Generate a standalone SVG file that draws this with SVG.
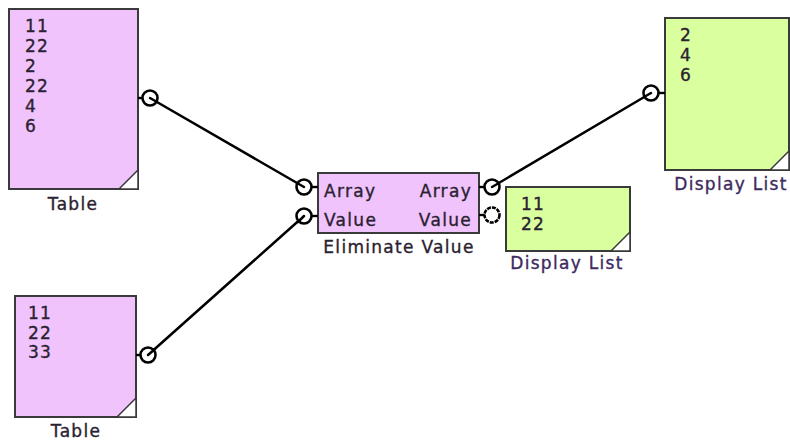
<svg xmlns="http://www.w3.org/2000/svg" width="790" height="442" viewBox="0 0 790 442">
<style>
  text { font-family: "DejaVu Sans", Verdana, sans-serif; font-size: 17px; letter-spacing: 1.3px; fill: #2a2230; stroke: #2a2230; stroke-width: 0.35px; }
  .lbl { text-anchor: middle; }
  .dl { fill: #3e2a5e; stroke: #3e2a5e; }
  .tbl { fill: #f1c3fd; stroke: #3a3a3a; stroke-width: 2; }
  .dsp { fill: #d9ff9f; stroke: #3a3a3a; stroke-width: 2; }
  .fold { fill: #ffffff; stroke: #3a3a3a; stroke-width: 1.5; }
  .port { fill: #ffffff; stroke: #000; stroke-width: 2.6; }
  .stub { stroke: #000; stroke-width: 2.4; }
  .wire { stroke: #000; stroke-width: 2.5; fill: none; stroke-linecap: round; }
  .r { text-anchor: end; }
</style>
<rect width="790" height="442" fill="#ffffff"/>

<g id="connectors">
  <line class="wire" x1="150" y1="98" x2="304" y2="187"/>
  <line class="wire" x1="148" y1="355" x2="304" y2="216"/>
  <line class="wire" x1="492" y1="187" x2="651" y2="93"/>
</g>

<g id="table1">
  <rect class="tbl" x="9" y="9" width="129" height="180"/>
  <polygon class="fold" points="119,189 138,170 138,189"/>
  <text x="25" y="32">11</text>
  <text x="25" y="52">22</text>
  <text x="25" y="72">2</text>
  <text x="25" y="92">22</text>
  <text x="25" y="112">4</text>
  <text x="25" y="132">6</text>
  <text class="lbl" x="73" y="210">Table</text>
  <line class="stub" x1="138" y1="98" x2="142" y2="98"/>
  <circle class="port" cx="150" cy="98" r="7.5"/>
  <line class="wire" x1="150" y1="98" x2="157" y2="102"/>
</g>

<g id="table2">
  <rect class="tbl" x="15" y="296" width="121" height="121"/>
  <polygon class="fold" points="117,417 136,398 136,417"/>
  <text x="28" y="319">11</text>
  <text x="28" y="339">22</text>
  <text x="28" y="358">33</text>
  <text class="lbl" x="76" y="437">Table</text>
  <line class="stub" x1="136" y1="355" x2="141" y2="355"/>
  <circle class="port" cx="148" cy="355" r="7.5"/>
  <line class="wire" x1="148" y1="355" x2="155" y2="349"/>
</g>

<g id="eliminate">
  <rect class="tbl" x="318" y="173" width="161" height="60"/>
  <text x="324" y="197">Array</text>
  <text x="324" y="226">Value</text>
  <text class="r" x="472" y="197">Array</text>
  <text class="r" x="472" y="226">Value</text>
  <text class="lbl" x="399" y="253">Eliminate Value</text>
  <line class="stub" x1="312" y1="187" x2="318" y2="187"/>
  <line class="stub" x1="312" y1="216" x2="318" y2="216"/>
  <circle class="port" cx="304" cy="187" r="7.5"/>
  <circle class="port" cx="304" cy="216" r="7.5"/>
  <line class="wire" x1="304" y1="187" x2="297" y2="183"/>
  <line class="wire" x1="304" y1="216" x2="298" y2="222"/>
  <line class="stub" x1="479" y1="187" x2="485" y2="187"/>
  <line class="stub" x1="479" y1="215" x2="485" y2="215"/>
  <circle class="port" cx="492" cy="187" r="7.5"/>
  <circle class="port" cx="492" cy="215" r="7.5" stroke-dasharray="4 1"/>
  <line class="wire" x1="492" y1="187" x2="499" y2="183"/>
</g>

<g id="display1">
  <rect class="dsp" x="665" y="18" width="124" height="152"/>
  <polygon class="fold" points="770,170 789,151 789,170"/>
  <text x="680" y="41">2</text>
  <text x="680" y="61">4</text>
  <text x="680" y="81">6</text>
  <text class="lbl dl" x="731" y="190">Display List</text>
  <line class="stub" x1="659" y1="93" x2="665" y2="93"/>
  <circle class="port" cx="651" cy="93" r="7.5"/>
  <line class="wire" x1="651" y1="93" x2="644" y2="97"/>
</g>

<g id="display2">
  <rect class="dsp" x="506" y="187" width="124" height="64"/>
  <polygon class="fold" points="611,251 630,232 630,251"/>
  <text x="521" y="210">11</text>
  <text x="521" y="230">22</text>
  <text class="lbl dl" x="567" y="269">Display List</text>
</g>
</svg>
